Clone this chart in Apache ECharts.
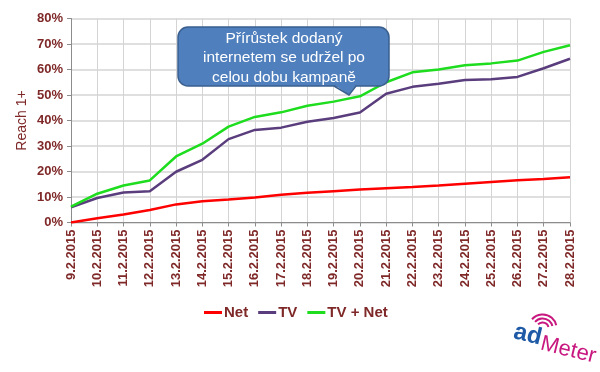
<!DOCTYPE html>
<html>
<head>
<meta charset="utf-8">
<script src="https://cdn.jsdelivr.net/npm/echarts@6/dist/echarts.min.js"></script>
<style>
html,body{margin:0;padding:0;background:#fff;}
#c{width:600px;height:372px;}
</style>
</head>
<body>
<div id="c"></div>
<script>
var categories = ['9.2.2015','10.2.2015','11.2.2015','12.2.2015','13.2.2015','14.2.2015','15.2.2015','16.2.2015','17.2.2015','18.2.2015','19.2.2015','20.2.2015','21.2.2015','22.2.2015','23.2.2015','24.2.2015','25.2.2015','26.2.2015','27.2.2015','28.2.2015'];
var netValues = [0, 1.7, 3.1, 4.9, 7.1, 8.3, 9.0, 9.8, 10.9, 11.7, 12.3, 12.9, 13.4, 13.9, 14.5, 15.2, 15.9, 16.6, 17.1, 17.7];
var tvValues = [6.0, 9.6, 11.8, 12.3, 19.9, 24.6, 32.7, 36.3, 37.2, 39.5, 41.0, 43.1, 50.5, 53.2, 54.4, 55.9, 56.2, 57.1, 60.5, 64.2];
var tvNetValues = [6.2, 11.3, 14.5, 16.5, 25.9, 30.9, 37.6, 41.4, 43.2, 45.8, 47.4, 49.5, 55.0, 58.9, 60.0, 61.7, 62.4, 63.5, 66.9, 69.5];
var seriesNames = ['Net', 'TV', 'TV + Net'];
var yTicks = {min: 0, max: 80, interval: 10};
var calloutText = 'Přírůstek dodaný\ninternetem se udržel po\ncelou dobu kampaně';

var dark = '#7f2828';
var font = '"Liberation Sans", Arial, sans-serif';
var arcStyle = {stroke: '#c8177f', lineWidth: 2, fill: null};
var chart = echarts.init(document.getElementById('c'));
chart.setOption({
  animation: false,
  grid: {left: 71, right: 30, top: 18.5, bottom: 149.5, containLabel: false},
  legend: {
    data: seriesNames,
    left: 199, top: 300,
    icon: 'rect', itemWidth: 18, itemHeight: 3, itemGap: 10,
    textStyle: {color: dark, fontWeight: 'bold', fontSize: 15, fontFamily: font, padding: [0,0,0,-3]}
  },
  xAxis: {
    type: 'category', data: categories, boundaryGap: false,
    axisLine: {lineStyle: {color: '#8c8c8c', width: 1}},
    axisTick: {show: true, length: 4, alignWithLabel: true, lineStyle: {color: '#8c8c8c'}},
    axisLabel: {rotate: 90, interval: 0, margin: 7, color: dark, fontWeight: 'bold', fontSize: 13, fontFamily: font},
    splitLine: {show: true, lineStyle: {color: '#d4d4d4', width: 1}}
  },
  yAxis: {
    type: 'value', min: yTicks.min, max: yTicks.max, interval: yTicks.interval,
    name: 'Reach 1+', nameLocation: 'middle', nameGap: 42, nameRotate: 90, nameMoveOverlap: false,
    nameTextStyle: {color: dark, fontSize: 14, fontFamily: font},
    axisLine: {show: true, lineStyle: {color: '#8c8c8c', width: 1}},
    axisTick: {show: true, length: 4, lineStyle: {color: '#8c8c8c'}},
    axisLabel: {formatter: '{value}%', margin: 8, color: dark, fontWeight: 'bold', fontSize: 13, fontFamily: font},
    splitLine: {show: true, lineStyle: {color: '#d4d4d4', width: 1.5}}
  },
  series: [
    {name: seriesNames[0], type: 'line', data: netValues, showSymbol: false, color: '#ff0000', lineStyle: {width: 2.5, color: '#ff0000'}},
    {name: seriesNames[1], type: 'line', data: tvValues, showSymbol: false, color: '#5a3d7c', lineStyle: {width: 2.5, color: '#5a3d7c'}},
    {name: seriesNames[2], type: 'line', data: tvNetValues, showSymbol: false, color: '#1edc1e', lineStyle: {width: 2.5, color: '#1edc1e'}}
  ],
  graphic: [
    {
      type: 'rect', z: 100,
      shape: {x: 178, y: 27, width: 211, height: 59, r: 10},
      style: {fill: '#4f7fbd', stroke: '#3a5f8e', lineWidth: 1.5}
    },
    {
      type: 'polygon', z: 101,
      shape: {points: [[334, 84.5], [356, 84.5], [349, 95]]},
      style: {fill: '#4f7fbd'}
    },
    {
      type: 'polyline', z: 102,
      shape: {points: [[334, 86], [349, 95], [356, 86]]},
      style: {stroke: '#3a5f8e', lineWidth: 1.5, fill: null}
    },
    {
      type: 'text', z: 103, x: 284, y: 28.5,
      style: {text: calloutText, fill: '#ffffff', font: '15.5px ' + font, textAlign: 'center', lineHeight: 19.5}
    },
    {
      type: 'group', x: 548, y: 340, rotation: -0.24, z: 100,
      children: [
        {type: 'text', x: -35, y: -12, style: {text: 'ad', fill: '#1f5aa6', font: 'bold 24px ' + font}},
        {type: 'text', x: -6, y: -6, style: {text: 'Meter', fill: '#c8177f', font: '22px ' + font}},
        {type: 'arc', shape: {cx: -8, cy: -10, r: 6, startAngle: -Math.PI*0.85, endAngle: -Math.PI*0.15}, style: arcStyle},
        {type: 'arc', shape: {cx: -8, cy: -10, r: 10, startAngle: -Math.PI*0.85, endAngle: -Math.PI*0.15}, style: arcStyle},
        {type: 'arc', shape: {cx: -8, cy: -10, r: 14, startAngle: -Math.PI*0.85, endAngle: -Math.PI*0.15}, style: arcStyle}
      ]
    }
  ]
});
</script>
</body>
</html>
